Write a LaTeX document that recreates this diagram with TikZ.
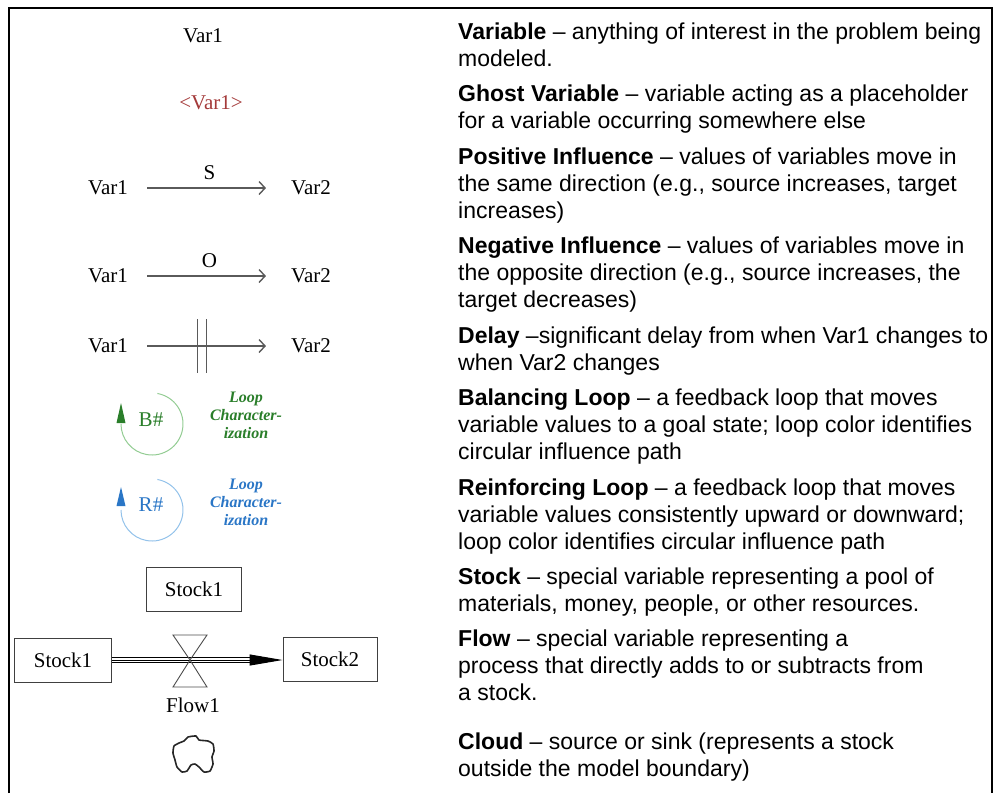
\documentclass[tikz,border=0pt]{standalone}
\usepackage{fontspec}
\setmainfont{Liberation Serif}
\newfontfamily\helv[Ligatures=TeX]{Liberation Sans}
\usepackage{tikz}
\usetikzlibrary{arrows.meta, calc}

\definecolor{ghostred}{HTML}{A43A3A}
\definecolor{linkgray}{HTML}{5A5A5A}
\definecolor{bgreen}{HTML}{2A7E2A}
\definecolor{bgreenarc}{HTML}{93CC93}
\definecolor{rblue}{HTML}{2A76C6}
\definecolor{rbluearc}{HTML}{93C2EA}

\tikzset{>={Straight Barb[length=6pt,width=13pt]}}
\newcommand{\loopchar}{Loop\\Character-\\ization}

\begin{document}
\begin{tikzpicture}[x=1pt, y=1pt,
    every node/.style={font=\fontsize{21}{25}\selectfont, inner sep=0pt},
    link/.style={linkgray, line width=1.4pt, ->, shorten <=19pt, shorten >=25pt},
    stockbox/.style={draw=black!75, line width=0.9pt, minimum height=44pt},
    legend/.style={anchor=north west, align=left, font=\helv\fontsize{23}{27}\selectfont},
    loopnote/.style={align=center, font=\bfseries\itshape\fontsize{16}{18}\selectfont}]

    \useasboundingbox (0,0) rectangle (995,-793);
    \draw[line width=2.5pt] (9,-793) -- (9,-8) -- (992,-8) -- (992,-793);

    % variables
    \node (var) at (203,-36) {Var1};
    \node[ghostred] (ghost) at (211,-103) {<Var1>};

    % same / opposite / delayed links
    \node (sa1) at (108,-188) {Var1};
    \node (sb1) at (311,-188) {Var2};
    \draw[link] (sa1) -- node[midway, above=8pt, black] (s) {S} (sb1);

    \node (oa1) at (108,-276) {Var1};
    \node (ob1) at (311,-276) {Var2};
    \draw[link] (oa1) -- node[midway, above=8pt, black] (o) {O} (ob1);

    \node (da1) at (108,-346) {Var1};
    \node (db1) at (311,-346) {Var2};
    \draw[link] (da1) -- coordinate[pos=0.455] (dm) (db1);
    \draw[linkgray, line width=1.2pt] ($(dm)+(-4.5,27)$) -- ++(0,-54)
        ($(dm)+(4.5,27)$) -- ++(0,-54);

    % balancing loop
    \draw[bgreenarc, line width=1pt] (152,-424) ++(80:31) arc[start angle=80, end angle=-180, radius=31];
    \fill[bgreen] (116.5,-423) -- (125.5,-423) -- (121,-403) -- cycle;
    \node[bgreen] (b) at (151,-420) {B\#};
    \node[loopnote, bgreen] (bnote) at (246,-415) {\loopchar};

    % reinforcing loop
    \draw[rbluearc, line width=1pt] (152,-510) ++(80:31) arc[start angle=80, end angle=-180, radius=31];
    \fill[rblue] (116.5,-506) -- (125.5,-506) -- (121,-487) -- cycle;
    \node[rblue] (r) at (151,-505) {R\#};
    \node[loopnote, rblue] (rnote) at (246,-502) {\loopchar};

    % stocks and flow
    \node[stockbox, minimum width=95pt] (st) at (194,-589) {Stock1};
    \node[stockbox, minimum width=97pt] (sa) at (63,-660) {Stock1};
    \node[stockbox, minimum width=94pt] (sb) at (330,-659) {Stock2};
    \coordinate (fv) at (190,-660); % valve
    \coordinate (tip) at (250,-660);

    \draw[line width=1.1pt, double=white, double distance=4.4pt] (sa.east) -- (tip);
    \draw[line width=0.9pt] (sa.east) -- (tip);
    \draw[line width=1pt, -{Triangle[length=33pt,width=11pt]}] (tip) -- (sb.west |- tip);

    \draw[black!70, line width=0.9pt] (173,-635) -- (207,-635) -- (fv) -- cycle
        (173,-687) -- (207,-687) -- (fv) -- cycle;
    \node (flow) at (193,-705) {Flow1};

    % cloud, a rough hand-drawn outline
    \draw[black!85, line width=1.6pt, line join=round] plot[smooth cycle, tension=0.3] coordinates {
        (188,-737) (196,-736) (199,-740) (208,-741) (213,-744) (214,-751)
        (212,-757) (213,-764) (210,-771) (204,-772) (199,-767) (195,-764)
        (191,-765) (187,-771) (182,-772) (177,-767) (175,-760) (173,-753)
        (174,-746) (179,-743) (184,-741)};

    % legend
    \node[legend] (t1) at (458,-23) {\textbf{Variable} -- anything of interest in the problem being\\modeled.};
    \node[legend] (t2) at (458,-85) {\textbf{Ghost Variable} -- variable acting as a placeholder\\for a variable occurring somewhere else};
    \node[legend] (t3) at (458,-148) {\textbf{Positive Influence} -- values of variables move in\\the same direction (e.g., source increases, target\\increases)};
    \node[legend] (t4) at (458,-237) {\textbf{Negative Influence} -- values of variables move in\\the opposite direction (e.g., source increases, the\\target decreases)};
    \node[legend] (t5) at (458,-327) {\textbf{Delay} --significant delay from when Var1 changes to\\when Var2 changes};
    \node[legend] (t6) at (458,-389) {\textbf{Balancing Loop} -- a feedback loop that moves\\variable values to a goal state; loop color identifies\\circular influence path};
    \node[legend] (t7) at (458,-479) {\textbf{Reinforcing Loop} -- a feedback loop that moves\\variable values consistently upward or downward;\\loop color identifies circular influence path};
    \node[legend] (t8) at (458,-568) {\textbf{Stock} -- special variable representing a pool of\\materials, money, people, or other resources.};
    \node[legend] (t9) at (458,-630) {\textbf{Flow} -- special variable representing a\\process that directly adds to or subtracts from\\a stock.};
    \node[legend] (t10) at (458,-733) {\textbf{Cloud} -- source or sink (represents a stock\\outside the model boundary)};
\end{tikzpicture}
\end{document}
